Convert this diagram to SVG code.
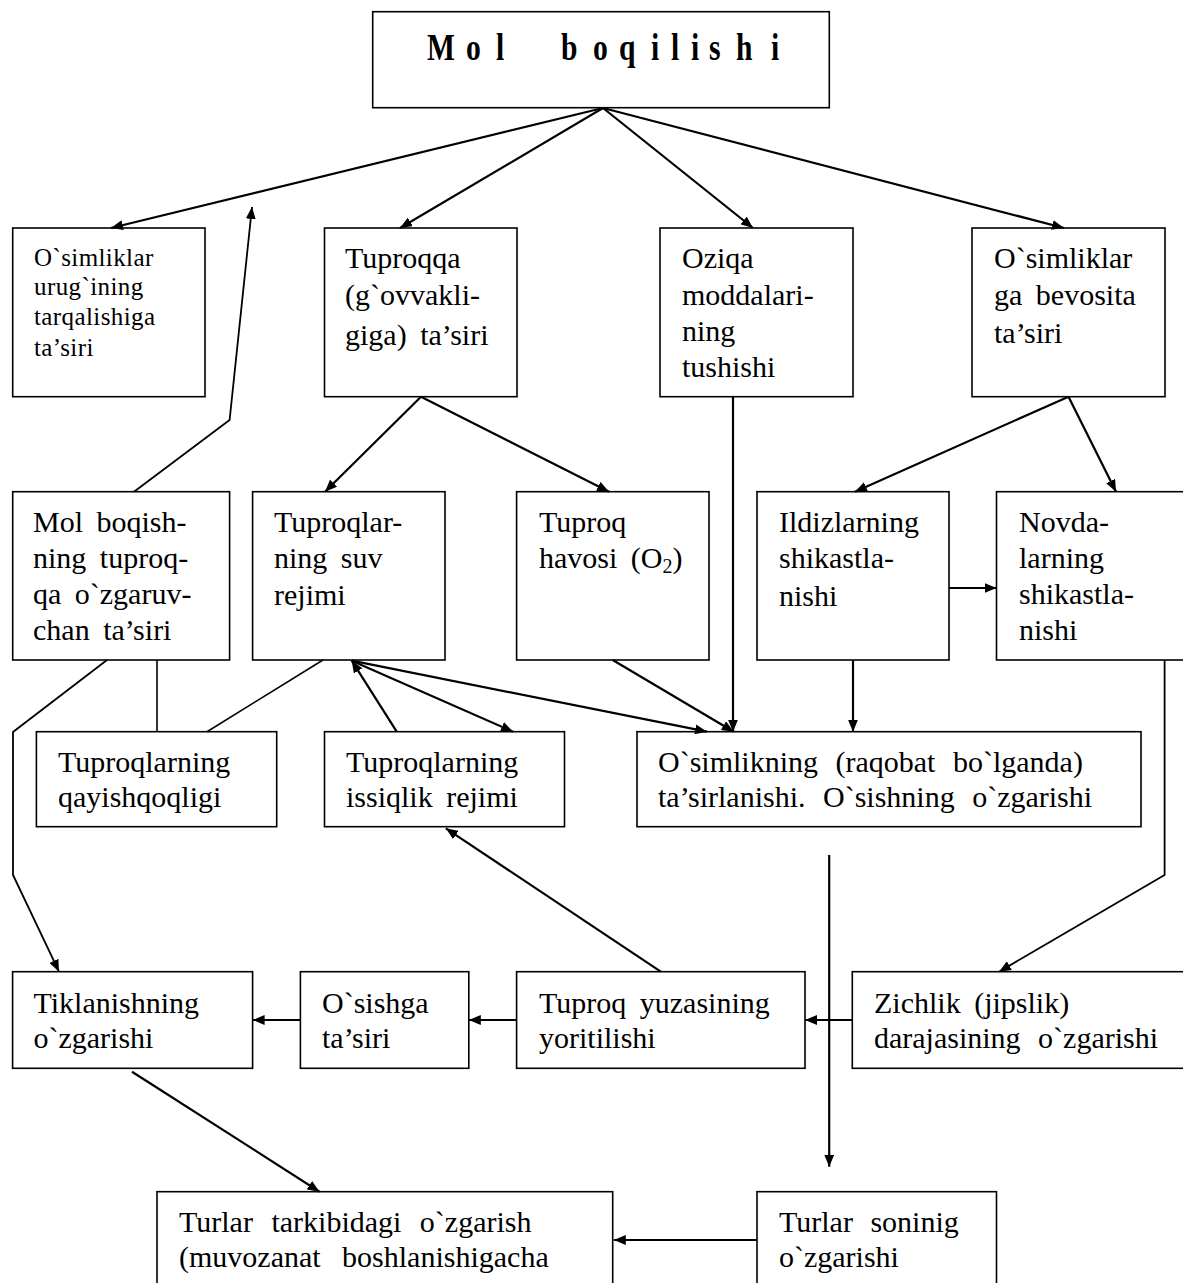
<svg xmlns="http://www.w3.org/2000/svg" width="1183" height="1283" viewBox="0 0 1183 1283">
<style>
  .box { fill: #ffffff; stroke: #000000; stroke-width: 1.6; }
  .t { font-family: "Liberation Serif", "Times New Roman", serif; font-size: 30px; fill: #000000; word-spacing: 6px; }
  .ts { font-family: "Liberation Serif", "Times New Roman", serif; font-size: 25px; fill: #000000; letter-spacing: 0.4px; }
  .title { font-family: "Liberation Serif", "Times New Roman", serif; font-size: 37px; font-weight: bold; fill: #000000; }
  .a { fill: none; stroke: #000000; stroke-width: 2.2; marker-end: url(#ah); }
  .l { fill: none; stroke: #000000; stroke-width: 1.6; }
</style>
<defs>
  <marker id="ah" markerUnits="userSpaceOnUse" markerWidth="13" markerHeight="10" refX="12" refY="5" orient="auto">
    <path d="M0,0 L12,5 L0,10 z" fill="#000000"/>
  </marker>
</defs>
<rect x="0" y="0" width="1183" height="1283" fill="#ffffff"/>

<g id="n-title">
  <rect class="box" x="372.7" y="11.7" width="456.6" height="96"/>
  <text class="title" transform="scale(0.8,1)" x="533.75 582.5 620 650 701.25 741.25 773.75 813.75 838.75 863.75 886.25 920 963.75" y="60">Mol boqilishi</text>
</g>

<g id="n-urug">
  <rect class="box" x="12.7" y="228" width="192.3" height="168.7"/>
  <text class="ts" x="34" y="266">O`simliklar</text>
  <text class="ts" x="34" y="295">urug`ining</text>
  <text class="ts" x="34" y="325">tarqalishiga</text>
  <text class="ts" x="34" y="356">ta’siri</text>
</g>

<g id="n-tuproqqa">
  <rect class="box" x="324.5" y="228" width="192.5" height="168.7"/>
  <text class="t" x="345" y="268">Tuproqqa</text>
  <text class="t" x="345" y="305">(g`ovvakli-</text>
  <text class="t" x="345" y="345">giga) ta’siri</text>
</g>

<g id="n-oziqa">
  <rect class="box" x="660" y="228" width="193" height="168.7"/>
  <text class="t" x="682" y="268">Oziqa</text>
  <text class="t" x="682" y="305">moddalari-</text>
  <text class="t" x="682" y="341">ning</text>
  <text class="t" x="682" y="377">tushishi</text>
</g>

<g id="n-bevosita">
  <rect class="box" x="972" y="228" width="193" height="168.7"/>
  <text class="t" x="994" y="268">O`simliklar</text>
  <text class="t" x="994" y="305">ga bevosita</text>
  <text class="t" x="994" y="343">ta’siri</text>
</g>

<g id="n-molboqish">
  <rect class="box" x="12.7" y="491.7" width="216.9" height="168.3"/>
  <text class="t" x="33" y="532">Mol boqish-</text>
  <text class="t" x="33" y="568">ning tuproq-</text>
  <text class="t" x="33" y="604">qa o`zgaruv-</text>
  <text class="t" x="33" y="640">chan ta’siri</text>
</g>

<g id="n-suv">
  <rect class="box" x="252.6" y="491.7" width="192.4" height="168.3"/>
  <text class="t" x="274" y="532">Tuproqlar-</text>
  <text class="t" x="274" y="568">ning suv</text>
  <text class="t" x="274" y="605">rejimi</text>
</g>

<g id="n-havosi">
  <rect class="box" x="516.6" y="491.7" width="192.4" height="168.3"/>
  <text class="t" x="539" y="532">Tuproq</text>
  <text class="t" x="539" y="568">havosi (O<tspan font-size="20" dy="5">2</tspan><tspan dy="-5">)</tspan></text>
</g>

<g id="n-ildiz">
  <rect class="box" x="757" y="491.7" width="192" height="168.3"/>
  <text class="t" x="779" y="532">Ildizlarning</text>
  <text class="t" x="779" y="568">shikastla-</text>
  <text class="t" x="779" y="606">nishi</text>
</g>

<g id="n-novda">
  <rect class="box" x="996.5" y="491.7" width="200" height="168.3"/>
  <text class="t" x="1019" y="532">Novda-</text>
  <text class="t" x="1019" y="568">larning</text>
  <text class="t" x="1019" y="604">shikastla-</text>
  <text class="t" x="1019" y="640">nishi</text>
</g>

<g id="n-qayish">
  <rect class="box" x="36.4" y="731.7" width="240.3" height="95"/>
  <text class="t" x="58" y="772">Tuproqlarning</text>
  <text class="t" x="58" y="807">qayishqoqligi</text>
</g>

<g id="n-issiqlik">
  <rect class="box" x="324.5" y="731.7" width="240" height="95"/>
  <text class="t" x="346" y="772">Tuproqlarning</text>
  <text class="t" x="346" y="807">issiqlik rejimi</text>
</g>

<g id="n-osimlikning">
  <rect class="box" x="637" y="731.7" width="504" height="95"/>
  <text class="t" x="658" y="772" style="word-spacing:10px">O`simlikning (raqobat bo`lganda)</text>
  <text class="t" x="658" y="807" style="word-spacing:10px">ta’sirlanishi. O`sishning o`zgarishi</text>
</g>

<g id="n-tiklanish">
  <rect class="box" x="12.6" y="971.7" width="240" height="96.6"/>
  <text class="t" x="33.5" y="1013">Tiklanishning</text>
  <text class="t" x="33.5" y="1048">o`zgarishi</text>
</g>

<g id="n-osishga">
  <rect class="box" x="300.4" y="971.7" width="168.4" height="96.6"/>
  <text class="t" x="322" y="1013">O`sishga</text>
  <text class="t" x="322" y="1048">ta’siri</text>
</g>

<g id="n-yuza">
  <rect class="box" x="516.6" y="971.7" width="288.4" height="96.6"/>
  <text class="t" x="539" y="1013">Tuproq yuzasining</text>
  <text class="t" x="539" y="1048">yoritilishi</text>
</g>

<g id="n-zichlik">
  <rect class="box" x="852.3" y="971.7" width="345" height="96.6"/>
  <text class="t" x="874" y="1013">Zichlik (jipslik)</text>
  <text class="t" x="874" y="1048" style="word-spacing:10px">darajasining o`zgarishi</text>
</g>

<g id="n-tarkib">
  <rect class="box" x="157" y="1191.7" width="455.7" height="110"/>
  <text class="t" x="179" y="1232" style="word-spacing:11px">Turlar tarkibidagi o`zgarish</text>
  <text class="t" x="179" y="1267" style="word-spacing:14px">(muvozanat boshlanishigacha</text>
</g>

<g id="n-soni">
  <rect class="box" x="757" y="1191.7" width="239.5" height="110"/>
  <text class="t" x="779" y="1232" style="word-spacing:10px">Turlar soninig</text>
  <text class="t" x="779" y="1267">o`zgarishi</text>
</g>

<g id="connectors">
  <line class="a" x1="603" y1="108" x2="111" y2="228"/>
  <line class="a" x1="603" y1="108" x2="400" y2="228"/>
  <line class="a" x1="603" y1="108" x2="753" y2="228"/>
  <line class="a" x1="603" y1="108" x2="1064" y2="228"/>
  <polyline class="a" style="stroke-width:1.8" points="134,491.7 229.6,420 252,207"/>
  <line class="a" x1="421" y1="396.7" x2="325" y2="491.7"/>
  <line class="a" x1="421" y1="396.7" x2="609" y2="491.7"/>
  <line class="a" x1="733" y1="396.7" x2="733" y2="731.7"/>
  <line class="a" x1="1068.5" y1="396.7" x2="855" y2="491.7"/>
  <line class="a" x1="1068.5" y1="396.7" x2="1116" y2="491.7"/>
  <line class="a" x1="949" y1="588" x2="996.5" y2="588"/>
  <line class="a" x1="853" y1="660" x2="853" y2="731.7"/>
  <line class="a" x1="612.7" y1="660" x2="733.8" y2="731.7"/>
  <line class="a" x1="351.7" y1="660.7" x2="707" y2="731.7"/>
  <line class="a" x1="396.7" y1="731.7" x2="351.7" y2="660.7"/>
  <line class="a" x1="351.7" y1="660.7" x2="513" y2="731.7"/>
  <line class="l" x1="323" y1="660" x2="207" y2="731.7"/>
  <line class="l" x1="157" y1="660" x2="157" y2="731.7"/>
  <polyline class="a" style="stroke-width:1.8" points="107,660 13,732 13,875 59,971.7"/>
  <polyline class="a" style="stroke-width:1.8" points="1164.6,660 1164.6,875 999,971.7"/>
  <line class="a" x1="829.2" y1="855" x2="829.2" y2="1166.7"/>
  <line class="a" x1="852.3" y1="1020" x2="805" y2="1020"/>
  <line class="a" x1="516.6" y1="1020" x2="468.8" y2="1020"/>
  <line class="a" x1="300.4" y1="1020" x2="252.6" y2="1020"/>
  <line class="a" x1="660.8" y1="971.7" x2="445.8" y2="828.3"/>
  <line class="a" x1="132" y1="1071.7" x2="319.5" y2="1191.7"/>
  <line class="a" x1="757" y1="1240" x2="613.8" y2="1240"/>
</g>
</svg>
